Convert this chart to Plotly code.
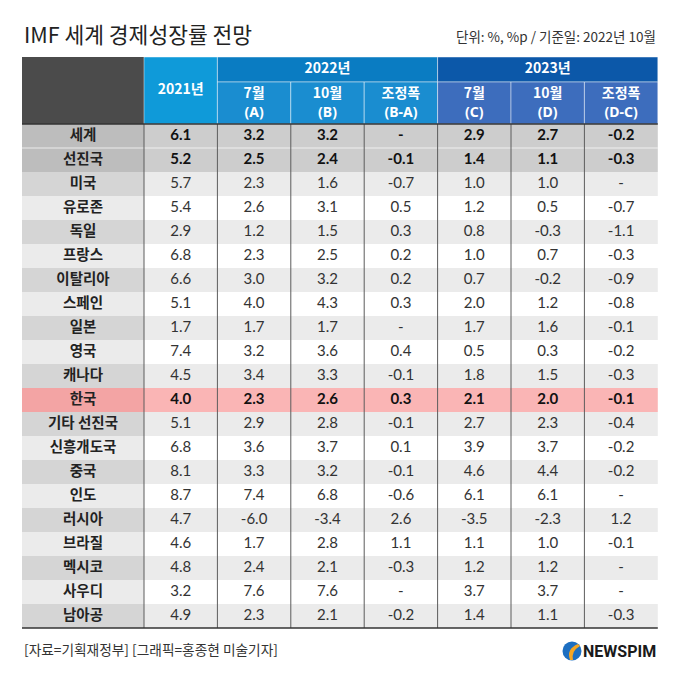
"""
IMF 세계 경제성장률 전망 - 표 형태 재현
"""
import plotly.graph_objects as go

# 데이터 (단위: %, %p)
regions = ['세계', '선진국', '미국', '유로존', '독일', '프랑스', '이탈리아', '스페인', '일본', '영국',
           '캐나다', '한국', '기타 선진국', '신흥개도국', '중국', '인도', '러시아', '브라질', '멕시코',
           '사우디', '남아공']
y2021 = [6.1, 5.2, 5.7, 5.4, 2.9, 6.8, 6.6, 5.1, 1.7, 7.4, 4.5, 4.0, 5.1, 6.8, 8.1, 8.7, 4.7, 4.6, 4.8, 3.2, 4.9]
jul22 = [3.2, 2.5, 2.3, 2.6, 1.2, 2.3, 3.0, 4.0, 1.7, 3.2, 3.4, 2.3, 2.9, 3.6, 3.3, 7.4, -6.0, 1.7, 2.4, 7.6, 2.3]
oct22 = [3.2, 2.4, 1.6, 3.1, 1.5, 2.5, 3.2, 4.3, 1.7, 3.6, 3.3, 2.6, 2.8, 3.7, 3.2, 6.8, -3.4, 2.8, 2.1, 7.6, 2.1]
adj22 = [None, -0.1, -0.7, 0.5, 0.3, 0.2, 0.2, 0.3, None, 0.4, -0.1, 0.3, -0.1, 0.1, -0.1, -0.6, 2.6, 1.1, -0.3,
         None, -0.2]
jul23 = [2.9, 1.4, 1.0, 1.2, 0.8, 1.0, 0.7, 2.0, 1.7, 0.5, 1.8, 2.1, 2.7, 3.9, 4.6, 6.1, -3.5, 1.1, 1.2, 3.7, 1.4]
oct23 = [2.7, 1.1, 1.0, 0.5, -0.3, 0.7, -0.2, 1.2, 1.6, 0.3, 1.5, 2.0, 2.3, 3.7, 4.4, 6.1, -2.3, 1.0, 1.2, 3.7, 1.1]
adj23 = [-0.2, -0.3, None, -0.7, -1.1, -0.3, -0.9, -0.8, -0.1, -0.2, -0.3, -0.1, -0.4, -0.2, -0.2, None, 1.2,
         -0.1, None, None, -0.3]

first_header = '2021년'
group_headers = ['2022년', '2023년']
sub_months = ['7월', '10월', '조정폭', '7월', '10월', '조정폭']
sub_codes = ['(A)', '(B)', '(B-A)', '(C)', '(D)', '(D-C)']
bold_rows = ['세계', '선진국', '한국']
highlight_row = '한국'

title = 'IMF 세계 경제성장률 전망'
unit_note = '단위: %, %p / 기준일: 2022년 10월'
source_note = '[자료=기획재정부] [그래픽=홍종현 미술기자]'

# 배치 (px)
W, H = 680, 679
LEFT, TOP = 22, 57
LABEL_W, COL_W = 122, 73.4
HEAD_H, BAND_H, ROW_H = 67, 25, 24

KR_FONT = 'Noto Sans CJK KR'
NUM_FONT = 'Lato'


def fmt(v):
    return '-' if v is None else f'{v:.1f}'


columns = [y2021, jul22, oct22, adj22, jul23, oct23, adj23]
x_edges = [LEFT, LEFT + LABEL_W] + [LEFT + LABEL_W + COL_W * (i + 1) for i in range(len(columns))]
x_centers = [(a + b) / 2 for a, b in zip(x_edges[:-1], x_edges[1:])]
body_top = TOP + HEAD_H
body_bottom = body_top + ROW_H * len(regions)
row_centers = [body_top + ROW_H * (i + 0.5) for i in range(len(regions))]

shapes = []


def rect(x0, x1, y0, y1, fill, line=None):
    shapes.append(dict(type='rect', xref='x', yref='y', x0=x0, x1=x1, y0=y0, y1=y1,
                       fillcolor=fill, line=line or dict(width=0), layer='below'))


def hline(x0, x1, y, color, width):
    shapes.append(dict(type='line', xref='x', yref='y', x0=x0, x1=x1, y0=y, y1=y,
                       line=dict(color=color, width=width)))


def vline(x, y0, y1, color, width):
    shapes.append(dict(type='line', xref='x', yref='y', x0=x, x1=x, y0=y0, y1=y1,
                       line=dict(color=color, width=width)))


# 본문 행 배경
for i, name in enumerate(regions):
    y0 = body_top + ROW_H * i
    y1 = y0 + ROW_H
    if name == highlight_row:
        lab_c, dat_c = '#f3a4a4', '#fab5b5'
    elif i < 2:
        lab_c, dat_c = '#bdbdbd', '#cdcdcd'
    elif i % 2 == 0:
        lab_c, dat_c = '#d5d5d5', '#ebebeb'
    else:
        lab_c, dat_c = '#ebebeb', '#ffffff'
    rect(x_edges[0], x_edges[1], y0, y1, lab_c)
    rect(x_edges[1], x_edges[-1], y0, y1, dat_c)

hline(x_edges[0], x_edges[-1], body_top + ROW_H, 'rgba(255,255,255,0.7)', 1)

# 헤더 배경
sep = dict(color='rgba(255,255,255,0.45)', width=1)
rect(x_edges[0], x_edges[1], TOP, body_top, '#4b4b4b')
rect(x_edges[1], x_edges[2], TOP, body_top, '#0f9ad9', sep)
band_colors = [('#0a7cc2', '#1a8dd0'), ('#0c58a9', '#3d6dbd')]
for g, (band_c, sub_c) in enumerate(band_colors):
    a = 2 + g * 3
    rect(x_edges[a], x_edges[a + 3], TOP, TOP + BAND_H, band_c, sep)
    for k in range(a, a + 3):
        rect(x_edges[k], x_edges[k + 1], TOP + BAND_H, body_top, sub_c, sep)

# 구분선
for x in x_edges[1:-1]:
    vline(x, body_top, body_bottom, '#5c5c5c', 1)
hline(x_edges[0], x_edges[-1], body_top, '#333333', 1.5)
hline(x_edges[0], x_edges[-1], body_bottom, '#333333', 1.5)

# 로고 아이콘
logo_cx, logo_cy, logo_r = 572, 651, 9.5
shapes.append(dict(type='circle', xref='x', yref='y', x0=logo_cx - logo_r, x1=logo_cx + logo_r,
                   y0=logo_cy - logo_r, y1=logo_cy + logo_r, fillcolor='#1d6fc1', line=dict(width=0)))
shapes.append(dict(type='path', xref='x', yref='y',
                   path=f'M {logo_cx + 6},{logo_cy - 7} Q {logo_cx - 6},{logo_cy - 2} {logo_cx - 2},{logo_cy + 9} '
                        f'L {logo_cx + 1},{logo_cy + 9} Q {logo_cx - 1},{logo_cy} {logo_cx + 8},{logo_cy - 5} Z',
                   fillcolor='#f5a623', line=dict(width=0)))

fig = go.Figure()

# 지역명
fig.add_trace(go.Scatter(
    x=[x_centers[0]] * len(regions), y=row_centers, text=regions, mode='text',
    textfont=dict(family=KR_FONT, size=14.5, color='#222222', weight='bold'),
    hoverinfo='skip', showlegend=False
))

# 수치
reg_x, reg_y, reg_t, bold_x, bold_y, bold_t = [], [], [], [], [], []
for j, col in enumerate(columns):
    for i, v in enumerate(col):
        if regions[i] in bold_rows:
            bold_x.append(x_centers[j + 1]); bold_y.append(row_centers[i]); bold_t.append(fmt(v))
        else:
            reg_x.append(x_centers[j + 1]); reg_y.append(row_centers[i]); reg_t.append(fmt(v))

fig.add_trace(go.Scatter(
    x=reg_x, y=reg_y, text=reg_t, mode='text',
    textfont=dict(family=NUM_FONT, size=15, color='#333333'),
    hoverinfo='skip', showlegend=False
))
fig.add_trace(go.Scatter(
    x=bold_x, y=bold_y, text=bold_t, mode='text',
    textfont=dict(family=NUM_FONT, size=15, color='#111111', weight='bold'),
    hoverinfo='skip', showlegend=False
))

# 헤더 텍스트
sub_top = TOP + BAND_H
fig.add_trace(go.Scatter(
    x=[x_centers[1], (x_edges[2] + x_edges[5]) / 2, (x_edges[5] + x_edges[8]) / 2] + x_centers[2:],
    y=[(TOP + body_top) / 2] + [TOP + BAND_H / 2] * 2 + [sub_top + 12.5] * len(sub_months),
    text=[first_header] + group_headers + sub_months, mode='text',
    textfont=dict(family=KR_FONT, size=14, color='white', weight='bold'),
    hoverinfo='skip', showlegend=False
))
fig.add_trace(go.Scatter(
    x=x_centers[2:], y=[sub_top + 31] * len(sub_codes), text=sub_codes, mode='text',
    textfont=dict(family='Noto Sans', size=14, color='white', weight='bold'),
    hoverinfo='skip', showlegend=False
))

annotations = [
    dict(x=LEFT, y=33, text=title, xanchor='left', yanchor='middle', showarrow=False,
         font=dict(family=KR_FONT, size=21.5, color='#222222')),
    dict(x=x_edges[-1], y=36, text=unit_note, xanchor='right', yanchor='middle', showarrow=False,
         font=dict(family=KR_FONT, size=13.5, color='#333333')),
    dict(x=LEFT, y=649, text=source_note, xanchor='left', yanchor='middle', showarrow=False,
         font=dict(family=KR_FONT, size=13.7, color='#333333')),
    dict(x=x_edges[-1], y=651, text='NEWSPIM', xanchor='right', yanchor='middle', showarrow=False,
         font=dict(family='Roboto', size=16, color='#1a1a1a', weight='bold')),
]
for a in annotations:
    a.update(xref='x', yref='y')

fig.update_layout(
    width=W, height=H,
    margin=dict(l=0, r=0, t=0, b=0),
    paper_bgcolor='white', plot_bgcolor='white',
    xaxis=dict(range=[0, W], visible=False, fixedrange=True),
    yaxis=dict(range=[H, 0], visible=False, fixedrange=True),
    shapes=shapes, annotations=annotations,
)

# 페이지 기본 여백 제거 (창 크기에 맞춤)
fig.write_html('out.html', config={'displayModeBar': False},
               post_script="document.body.style.margin='0';")
